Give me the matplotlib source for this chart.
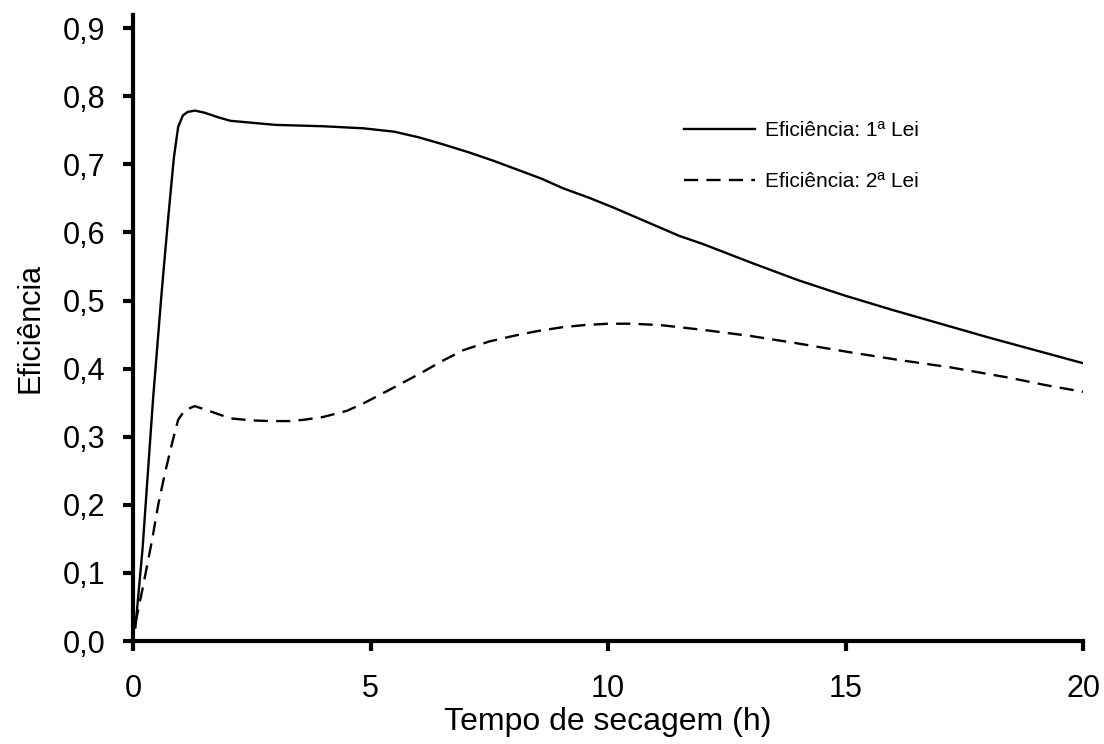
import matplotlib
matplotlib.use("Agg")
from matplotlib import pyplot as plt
from matplotlib.ticker import FuncFormatter

plt.rcParams['font.family'] = ['Liberation Sans', 'DejaVu Sans']

# Eficiência pela 1ª lei (linha cheia)
tempo_1 = [0.05, 0.2, 0.42, 0.6, 0.74, 0.86, 0.95, 1.05, 1.15, 1.3, 1.5, 1.8, 2.05,
           3.0, 4.0, 4.85, 5.5, 6.0, 6.5, 7.1, 7.6, 8.1, 8.6, 9.05, 9.6, 10.1, 10.6,
           11.1, 11.5, 12.0, 13.0, 14.0, 15.0, 16.0, 17.0, 18.0, 19.0, 20.0]
efic_1 = [0.02, 0.135, 0.354, 0.51, 0.621, 0.71, 0.755, 0.772, 0.777, 0.779, 0.776, 0.769, 0.764,
          0.758, 0.756, 0.753, 0.748, 0.740, 0.730, 0.717, 0.705, 0.692, 0.679, 0.665, 0.651, 0.637, 0.622,
          0.607, 0.595, 0.583, 0.556, 0.530, 0.507, 0.486, 0.466, 0.446, 0.427, 0.408]

# Eficiência pela 2ª lei (tracejada)
tempo_2 = [0.05, 0.21, 0.4, 0.53, 0.67, 0.82, 0.95, 1.09, 1.3, 1.6, 2.05, 2.5, 2.9, 3.3, 3.6, 4.0,
           4.5, 4.85, 5.4, 6.1, 6.5, 6.95, 7.5, 8.0, 8.5, 9.05, 9.5, 10.0, 10.5, 11.1,
           12.0, 13.0, 14.0, 15.1, 16.1, 17.2, 18.5, 19.2, 20.0]
efic_2 = [0.026, 0.08, 0.148, 0.2, 0.246, 0.29, 0.325, 0.339, 0.345, 0.338, 0.327, 0.324, 0.323, 0.323, 0.325, 0.329,
          0.338, 0.349, 0.369, 0.395, 0.411, 0.427, 0.440, 0.448, 0.455, 0.461, 0.464, 0.466, 0.466, 0.464,
          0.457, 0.448, 0.437, 0.424, 0.413, 0.402, 0.386, 0.376, 0.366]

rotulos = ["Eficiência: 1ª Lei", "Eficiência: 2ª Lei"]

fig = plt.figure(figsize=(11.04, 7.44), dpi=100)
ax = fig.add_axes([0.1205, 0.1384, 0.8605, 0.842])

ax.plot(tempo_1, efic_1, color='black', lw=1.7, label=rotulos[0])
ax.plot(tempo_2, efic_2, color='black', lw=1.7, dashes=(6, 3.5), label=rotulos[1])

ax.set_xlim(0, 20)
ax.set_ylim(0, 0.92)
ax.set_xticks([0, 5, 10, 15, 20])
ax.set_yticks([i / 10 for i in range(10)])
ax.yaxis.set_major_formatter(FuncFormatter(lambda v, p: f"{v:.1f}".replace('.', ',')))

for lado in ['top', 'right']:
    ax.spines[lado].set_visible(False)
for lado in ['left', 'bottom']:
    ax.spines[lado].set_linewidth(3)

ax.tick_params(axis='both', direction='out', length=7, width=3, labelsize=22)
ax.tick_params(axis='x', pad=17)
ax.tick_params(axis='y', pad=13)

ax.set_xlabel("Tempo de secagem (h)", fontsize=23, labelpad=2)
ax.set_ylabel("Eficiência", fontsize=22, labelpad=12)

ax.legend(loc='upper left', bbox_to_anchor=(0.56, 0.86), frameon=False, fontsize=15,
          handlelength=3.4, handletextpad=0.5, labelspacing=1.55)

fig.savefig("out.png", dpi=100)
